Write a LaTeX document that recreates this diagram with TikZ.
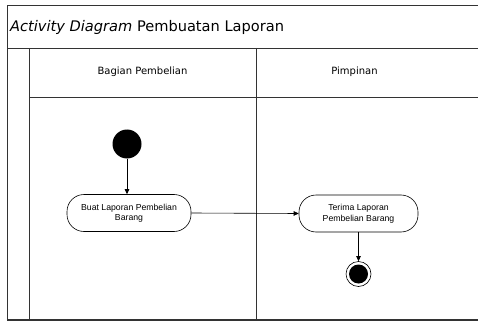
\documentclass[tikz,border=0pt]{standalone}
\usepackage{fontspec}
\setmainfont{DejaVu Sans}
\newfontfamily\actfont{Liberation Sans}
\usetikzlibrary{arrows.meta}
\begin{document}
\begin{tikzpicture}[x=1pt,y=-1pt,
  frameline/.style={draw=black!80,line width=0.9pt},
  action/.style={draw,line width=0.6pt,rounded corners=17pt,minimum width=124pt,minimum height=37pt,
    align=center,font=\actfont\fontsize{8.7}{10.5}\selectfont,inner sep=2pt},
  flow/.style={draw,line width=0.6pt,-{Triangle[length=5pt,width=4.5pt]}},
  lanehead/.style={font=\fontsize{10}{12}\selectfont}]
\useasboundingbox (0,0) rectangle (478,323);
% outer frame and swimlane partitions
\draw[frameline] (478,5) -- (7,5) -- (7,320);
\draw[draw=black!80,line width=1.4pt] (7,320) -- (478,320);
\draw[frameline] (7,48) -- (478,48);
\draw[frameline] (29,48) -- (29,320);
\draw[frameline] (29,97) -- (478,97);
\draw[frameline] (256,48) -- (256,320);
\node[anchor=west,font=\fontsize{14.6}{16}\selectfont,inner sep=0pt] (title) at (10,27)
  {\textit{Activity Diagram} Pembuatan Laporan};
\node[lanehead] (lane1) at (142.5,72) {Bagian Pembelian};
\node[lanehead] (lane2) at (354.5,72) {Pimpinan};
% activity flow
\node[circle,fill=black,minimum size=29pt,inner sep=0pt] (start) at (127,144) {};
\node[action,minimum width=124pt] (buat) at (129,213) {Buat Laporan Pembelian\\Barang};
\node[action,minimum width=119pt] (terima) at (358.5,213.5) {Terima Laporan\\Pembelian Barang};
\node[circle,draw,line width=0.6pt,minimum size=25pt,inner sep=0pt] (end) at (358.5,274) {};
\node[circle,fill=black,minimum size=19pt,inner sep=0pt] (endin) at (end.center) {};
\draw[flow] (start) -- (start|-buat.north);
\draw[flow] (buat.east) -- (terima.west);
\draw[flow] (terima) -- (end);
\end{tikzpicture}
\end{document}
